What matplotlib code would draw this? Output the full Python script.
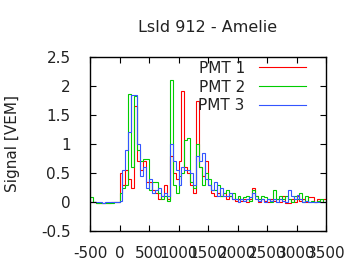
import numpy as np
import matplotlib
matplotlib.use("Agg")
import matplotlib.pyplot as plt

# 50 ns bins from -500 to 3500 ns
bin_start = -500
bin_width = 50

pmt1 = [0.0, 0.0, -0.01, -0.01, -0.01, -0.01, -0.01, 0.0, 0.0, 0.0,
        0.5, 0.3, 0.55, 0.4, 0.25, 1.65, 0.7, 0.55, 0.7, 0.35,
        0.35, 0.2, 0.15, 0.05, 0.1, 0.3, 0.05, 0.8, 0.5, 0.4,
        0.7, 1.92, 0.6, 0.5, 0.3, 0.15, 1.75, 0.6, 0.45, 0.7,
        0.3, 0.15, 0.1, 0.15, 0.1, 0.15, 0.05, 0.1, 0.05, 0.02,
        0.05, 0.02, 0.05, 0.0, 0.05, 0.25, 0.1, 0.0, 0.05, 0.02,
        0.0, 0.05, 0.02, 0.05, 0.0, 0.1, -0.02, -0.02, 0.05, 0.0,
        0.1, 0.02, 0.05, 0.0, 0.08, 0.08, 0.0, 0.05, 0.0, 0.05]
pmt2 = [0.08, 0.0, -0.02, -0.01, -0.02, -0.02, -0.01, -0.02, 0.0, 0.0,
        0.15, 0.25, 0.3, 1.86, 0.6, 1.83, 0.9, 0.7, 0.75, 0.75,
        0.2, 0.35, 0.35, 0.15, 0.05, 0.1, 0.02, 2.1, 0.3, 0.15,
        0.45, 0.5, 1.07, 1.1, 0.35, 0.25, 1.0, 0.6, 0.3, 0.5,
        0.4, 0.2, 0.2, 0.3, 0.1, 0.15, 0.2, 0.1, 0.15, 0.05,
        0.1, 0.05, 0.08, 0.1, 0.02, 0.2, 0.1, 0.05, 0.1, 0.08,
        0.05, 0.0, 0.2, 0.05, 0.1, 0.05, 0.1, 0.05, 0.0, 0.1,
        0.05, 0.15, 0.0, 0.1, 0.0, 0.02, 0.0, 0.02, 0.05, 0.0]
pmt3 = [0.0, 0.0, 0.0, 0.0, -0.01, 0.0, 0.0, 0.0, 0.0, 0.0,
        0.02, 0.55, 0.9, 1.2, 1.84, 1.84, 1.0, 0.45, 0.6, 0.25,
        0.4, 0.15, 0.2, 0.25, 0.1, 0.15, 0.1, 1.0, 0.7, 0.55,
        0.3, 0.6, 0.55, 0.55, 0.5, 0.3, 0.8, 0.7, 0.85, 0.4,
        0.3, 0.2, 0.35, 0.1, 0.25, 0.1, 0.1, 0.15, 0.05, 0.05,
        0.0, 0.05, 0.02, 0.05, 0.08, 0.15, 0.05, 0.02, 0.05, 0.0,
        0.05, 0.02, 0.05, 0.0, 0.05, 0.02, 0.0, 0.2, 0.1, 0.05,
        0.12, 0.05, 0.0, 0.02, 0.0, 0.0, 0.0, 0.0, 0.0, 0.0]

labels = ["PMT 1", "PMT 2", "PMT 3"]
colors = ["#ff0000", "#00cc00", "#3355ff"]
xticks = [-500, 0, 500, 1000, 1500, 2000, 2500, 3000, 3500]
yticks = [-0.5, 0, 0.5, 1, 1.5, 2, 2.5]

plt.rcParams['font.family'] = ['DejaVu Sans']
fig = plt.figure(figsize=(3.6, 2.7), dpi=100)
ax = fig.add_axes([90/360, 1-231/270, 236/360, 174/270])

edges = bin_start + bin_width*np.arange(len(pmt1)+1)
for vals, lab, c in zip([pmt1, pmt2, pmt3], labels, colors):
    ax.stairs(vals, edges, baseline=None, color=c, lw=0.8, label=lab)

ax.set_xlim(-500, 3500)
ax.set_ylim(-0.5, 2.5)
ax.set_xticks(xticks)
ax.set_yticks(yticks)
ax.set_xticklabels([str(t) for t in xticks])
ax.set_yticklabels([f"{t:g}" for t in yticks])
ax.tick_params(direction='in', length=4, width=0.8, top=True, right=True,
               labelsize=11, colors='black', labelcolor='#222222')
ax.tick_params(axis='y', pad=14)
ax.tick_params(axis='x', pad=11)
for s in ax.spines.values():
    s.set_linewidth(1.0)

leg = ax.legend(loc='upper right', bbox_to_anchor=(0.96, 1.04), frameon=False,
                markerfirst=False, fontsize=11, handlelength=3.1,
                handletextpad=0.9, labelspacing=0.25, borderpad=0.2)
for t in leg.get_texts():
    t.set_color('#222222')

fig.text(208/360, 1-27/270, "LsId 912 - Amelie", ha='center', va='center',
         fontsize=11.5, color='#222222')
fig.text(13/360, 1-144/270, "Signal [VEM]", ha='center', va='center',
         rotation=90, fontsize=11, color='#222222')

fig.savefig("out.png", dpi=100)
